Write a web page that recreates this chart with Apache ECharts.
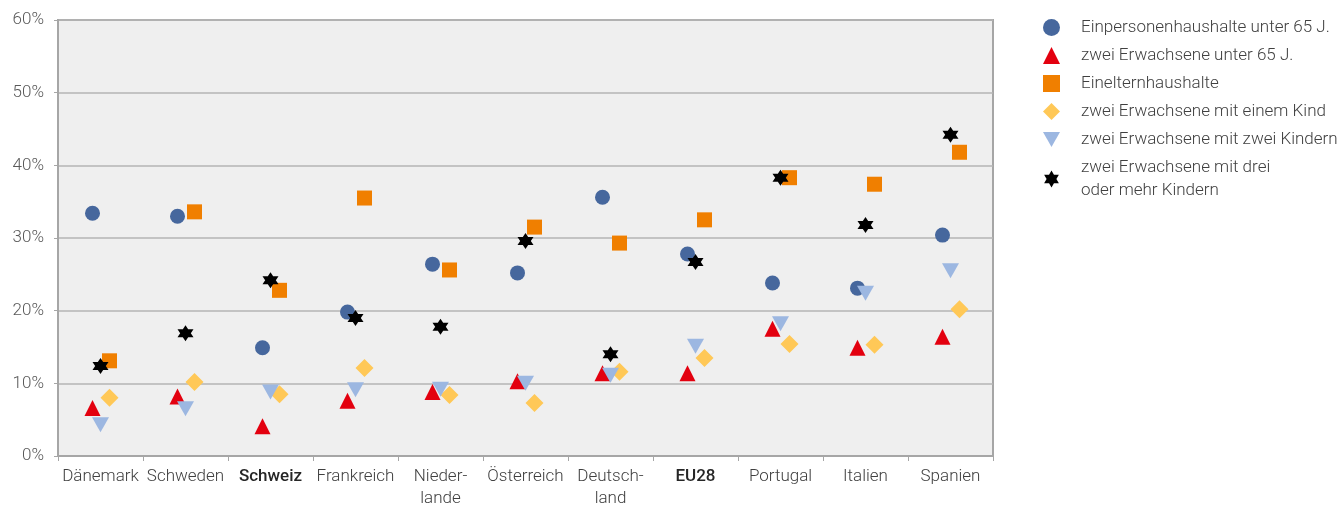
<!DOCTYPE html>
<html>
<head>
<meta charset="utf-8">
<script src="https://cdn.jsdelivr.net/npm/echarts@6/dist/echarts.min.js"></script>
<style>
  html, body { margin: 0; padding: 0; background: #fff; }
  #chart { width: 1343px; height: 505px; }
</style>
</head>
<body>
<div id="chart"></div>
<script>
const countries = ['Dänemark', 'Schweden', 'Schweiz', 'Frankreich', 'Nieder-\nlande', 'Österreich', 'Deutsch-\nland', 'EU28', 'Portugal', 'Italien', 'Spanien'];
const boldCountries = ['Schweiz', 'EU28'];

const singleUnder65 = [33.4, 33.0, 14.9, 19.8, 26.4, 25.2, 35.6, 27.8, 23.8, 23.1, 30.4];
const twoAdultsUnder65 = [6.6, 8.2, 4.1, 7.6, 8.8, 10.3, 11.4, 11.4, 17.5, 14.9, 16.4];
const singleParent = [13.1, 33.6, 22.8, 35.5, 25.6, 31.5, 29.3, 32.5, 38.3, 37.4, 41.8];
const twoAdultsOneChild = [8.0, 10.2, 8.5, 12.1, 8.4, 7.3, 11.6, 13.5, 15.4, 15.3, 20.2];
const twoAdultsTwoChildren = [4.3, 6.5, 8.8, 9.1, 9.2, 10.0, 11.1, 15.1, 18.2, 22.4, 25.5];
const twoAdultsThreeChildren = [12.4, 16.9, 24.2, 19.0, 17.8, 29.6, 14.0, 26.7, 38.3, 31.8, 44.2];

const seriesNames = ['Einpersonenhaushalte unter 65 J.', 'zwei Erwachsene unter 65 J.', 'Einelternhaushalte',
  'zwei Erwachsene mit einem Kind', 'zwei Erwachsene mit zwei Kindern', 'zwei Erwachsene mit drei\noder mehr Kindern'];

const yTicks = [0, 10, 20, 30, 40, 50, 60];

const starPath = 'path://M0,-10L2.89,-5L8.66,-5L5.77,0L8.66,5L2.89,5L0,10L-2.89,5L-8.66,5L-5.77,0L-8.66,-5L-2.89,-5Z';
const downTriangle = 'path://M0,0L10,0L5,8.7Z';

const chart = echarts.init(document.getElementById('chart'));
const fontFamily = 'Roboto, "Noto Sans", sans-serif';

const makeSeries = (name, data, symbol, color, size, offset) => ({
  name,
  type: 'scatter',
  data,
  symbol,
  symbolSize: size,
  symbolOffset: [offset, 0],
  itemStyle: { color, opacity: 1 },
  emphasis: { disabled: true }
});

chart.setOption({
  animation: false,
  textStyle: { fontFamily },
  grid: { left: 58, right: 350, top: 20, bottom: 49, outerBoundsMode: 'none', containLabel: false },
  legend: {
    orient: 'vertical',
    left: 1038,
    top: 11,
    itemWidth: 17,
    itemHeight: 17,
    itemGap: 5,
    textStyle: { color: '#404040', fontSize: 17, fontFamily, fontWeight: 300, padding: [0, 0, 0, 16], lineHeight: 23 },
    data: seriesNames.map((name, i) => i === 4 ? { name, icon: downTriangle } : name)
  },
  xAxis: {
    type: 'category',
    data: countries,
    boundaryGap: true,
    axisLine: { lineStyle: { color: '#a6a6a6', width: 2 } },
    axisTick: { show: true, length: 5, lineStyle: { color: '#a6a6a6' } },
    axisLabel: {
      color: '#404040',
      fontSize: 17,
      fontWeight: 300,
      margin: 10,
      lineHeight: 22,
      interval: 0,
      formatter: (v) => boldCountries.includes(v) ? `{b|${v}}` : v,
      rich: { b: { fontWeight: 500, fontSize: 17, color: '#262626' } }
    },
    splitLine: { show: false }
  },
  yAxis: {
    type: 'value',
    min: yTicks[0],
    max: yTicks[yTicks.length - 1],
    interval: 10,
    axisLine: { show: true, lineStyle: { color: '#a6a6a6', width: 2 } },
    axisTick: { show: true, length: 4, lineStyle: { color: '#a6a6a6' } },
    axisLabel: { color: '#595959', fontSize: 17, fontWeight: 300, margin: 14, formatter: '{value}%' },
    splitLine: { lineStyle: { color: '#b4b4b4', width: 1.5 } }
  },
  graphic: [{
    type: 'rect',
    shape: { x: 58, y: 20, width: 935, height: 436 },
    style: { fill: '#efefef', stroke: '#a6a6a6', lineWidth: 2 },
    z: -1,
    silent: true
  }],
  series: [
    makeSeries(seriesNames[0], singleUnder65, 'circle', '#46679d', 15, -8),
    makeSeries(seriesNames[1], twoAdultsUnder65, 'triangle', '#e3000f', 16, -8),
    makeSeries(seriesNames[2], singleParent, 'rect', '#f07f00', 15, 9),
    makeSeries(seriesNames[3], twoAdultsOneChild, 'diamond', '#ffc857', 18, 9),
    makeSeries(seriesNames[4], twoAdultsTwoChildren, downTriangle, '#9cb7e1', [17, 15], 0),
    makeSeries(seriesNames[5], twoAdultsThreeChildren, starPath, '#000000', 16, 0)
  ]
});
</script>
</body>
</html>
